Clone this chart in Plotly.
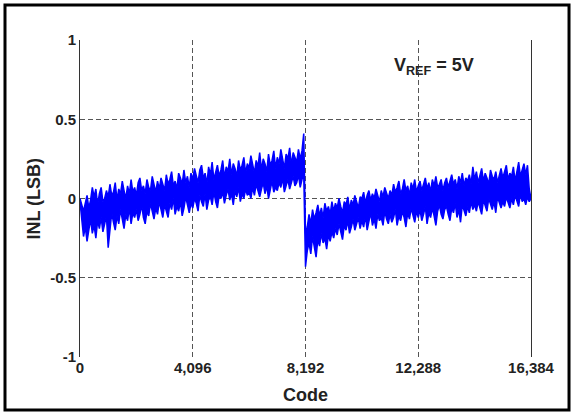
import plotly.graph_objects as go

# Sampled codes (every 64 codes); INL band read from the picture (LSB):
# upper and lower edges of the noisy INL trace at each sampled code.
codes = list(range(0, 16384, 64)) + [16383]

inl_upper = [
    # 0 - 960
    0.00, -0.05, -0.08, -0.03, 0.02, -0.06, -0.01, 0.07, 0.01, 0.06, -0.04, 0.03, 0.07, -0.02, 0.00, 0.05,
    # 1024 - 1984
    0.01, 0.09, 0.02, 0.04, 0.10, -0.01, 0.06, 0.03, 0.11, 0.05, 0.00, 0.08, 0.03, 0.12, 0.04, 0.07,
    # 2048 - 3008
    0.02, 0.10, 0.13, 0.05, 0.08, 0.03, 0.12, 0.07, 0.05, 0.14, 0.09, 0.04, 0.11, 0.06, 0.13, 0.08,
    # 3072 - 4032
    0.05, 0.15, 0.09, 0.12, 0.17, 0.08, 0.11, 0.06, 0.16, 0.13, 0.09, 0.18, 0.10, 0.14, 0.07, 0.16,
    # 4096 - 5056
    0.12, 0.19, 0.14, 0.10, 0.18, 0.21, 0.13, 0.16, 0.09, 0.20, 0.15, 0.23, 0.12, 0.17, 0.21, 0.14,
    # 5120 - 6080
    0.18, 0.24, 0.13, 0.20, 0.17, 0.25, 0.15, 0.22, 0.19, 0.14, 0.24, 0.18, 0.21, 0.26, 0.16, 0.22,
    # 6144 - 7104
    0.19, 0.27, 0.21, 0.16, 0.24, 0.20, 0.29, 0.18, 0.25, 0.22, 0.17, 0.28, 0.21, 0.24, 0.30, 0.19,
    # 7168 - 8128
    0.26, 0.22, 0.31, 0.24, 0.19, 0.28, 0.25, 0.32, 0.21, 0.29, 0.26, 0.23, 0.31, 0.25, 0.30, 0.41,
    # 8192 - 9152
    -0.22, -0.18, -0.10, -0.16, -0.07, -0.13, -0.09, -0.04, -0.11, -0.06, -0.12, -0.03, -0.08, -0.05, -0.10, -0.02,
    # 9216 - 10176
    -0.08, -0.03, -0.06, 0.00, -0.05, -0.09, -0.02, -0.04, 0.01, -0.07, -0.01, -0.04, 0.02, -0.03, -0.06, 0.01,
    # 10240 - 11200
    0.00, 0.04, -0.03, 0.02, 0.05, -0.01, 0.03, 0.00, 0.06, 0.02, -0.02, 0.05, 0.01, 0.07, 0.03, 0.00,
    # 11264 - 12224
    0.05, 0.02, 0.09, 0.04, 0.07, 0.11, 0.03, 0.06, 0.12, 0.05, 0.08, 0.02, 0.10, 0.06, 0.12, 0.04,
    # 12288 - 13248
    0.08, 0.11, 0.05, 0.09, 0.13, 0.06, 0.10, 0.04, 0.12, 0.08, 0.14, 0.07, 0.09, 0.12, 0.05, 0.10,
    # 13312 - 14272
    0.13, 0.07, 0.11, 0.15, 0.09, 0.12, 0.06, 0.14, 0.10, 0.16, 0.08, 0.13, 0.11, 0.15, 0.09, 0.20,
    # 14336 - 15296
    0.12, 0.17, 0.10, 0.14, 0.19, 0.11, 0.16, 0.13, 0.09, 0.18, 0.14, 0.12, 0.17, 0.10, 0.15, 0.19,
    # 15360 - 16320
    0.13, 0.18, 0.21, 0.12, 0.16, 0.14, 0.20, 0.11, 0.17, 0.23, 0.14, 0.19, 0.22, 0.15, 0.21, 0.06,
    # 16383
    0.00,
]

inl_lower = [
    # 0 - 960
    -0.02, -0.15, -0.24, -0.18, -0.27, -0.20, -0.13, -0.22, -0.17, -0.25, -0.14, -0.19, -0.12, -0.21, -0.16, -0.11,
    # 1024 - 1984
    -0.31, -0.18, -0.09, -0.15, -0.20, -0.11, -0.16, -0.07, -0.13, -0.19, -0.10, -0.14, -0.06, -0.16, -0.09, -0.12,
    # 2048 - 3008
    -0.07, -0.14, -0.10, -0.04, -0.12, -0.16, -0.08, -0.11, -0.03, -0.09, -0.13, -0.06, -0.10, -0.02, -0.08, -0.12,
    # 3072 - 4032
    -0.04, -0.09, -0.12, -0.03, -0.07, 0.00, -0.10, -0.05, -0.08, -0.02, -0.11, -0.06, 0.01, -0.04, -0.09, -0.03,
    # 4096 - 5056
    -0.06, 0.00, -0.03, -0.08, 0.02, -0.02, -0.05, 0.03, -0.07, -0.01, 0.01, -0.04, 0.04, -0.02, -0.06, 0.02,
    # 5120 - 6080
    0.00, 0.04, -0.03, 0.02, 0.06, -0.01, 0.03, -0.04, 0.05, 0.01, 0.07, -0.02, 0.03, 0.00, 0.06, 0.02,
    # 6144 - 7104
    0.04, 0.00, 0.07, 0.02, 0.09, 0.05, 0.01, 0.06, 0.10, 0.03, 0.08, 0.00, 0.06, 0.11, 0.04, 0.07,
    # 7168 - 8128
    0.05, 0.10, 0.07, 0.13, 0.04, 0.09, 0.12, 0.06, 0.11, 0.14, 0.08, 0.10, 0.15, 0.07, 0.12, 0.16,
    # 8192 - 9152
    -0.43, -0.33, -0.28, -0.35, -0.24, -0.31, -0.37, -0.26, -0.30, -0.22, -0.28, -0.25, -0.32, -0.23, -0.27, -0.21,
    # 9216 - 10176
    -0.25, -0.19, -0.23, -0.16, -0.21, -0.26, -0.17, -0.20, -0.14, -0.22, -0.18, -0.13, -0.20, -0.16, -0.12, -0.19,
    # 10240 - 11200
    -0.14, -0.18, -0.11, -0.20, -0.15, -0.09, -0.17, -0.13, -0.19, -0.10, -0.14, -0.12, -0.17, -0.08, -0.13, -0.16,
    # 11264 - 12224
    -0.10, -0.15, -0.12, -0.07, -0.17, -0.11, -0.14, -0.08, -0.12, -0.18, -0.09, -0.13, -0.06, -0.11, -0.15, -0.08,
    # 12288 - 13248
    -0.12, -0.07, -0.14, -0.10, -0.05, -0.16, -0.09, -0.12, -0.06, -0.11, -0.17, -0.08, -0.04, -0.10, -0.13, -0.07,
    # 13312 - 14272
    -0.05, -0.10, -0.14, -0.06, -0.09, -0.03, -0.12, -0.07, -0.15, -0.04, -0.08, -0.11, -0.05, -0.09, -0.02, -0.07,
    # 14336 - 15296
    -0.04, -0.08, -0.02, -0.06, -0.10, -0.01, -0.05, -0.08, 0.00, -0.04, -0.07, -0.02, -0.09, 0.01, -0.03, -0.06,
    # 15360 - 16320
    -0.02, -0.05, 0.01, -0.03, -0.06, 0.00, -0.04, 0.02, -0.01, -0.05, 0.03, -0.02, 0.00, -0.04, 0.01, -0.02,
    # 16383
    0.00,
]

x_tick_vals = [0, 4096, 8192, 12288, 16384]
x_tick_text = ["0", "4,096", "8,192", "12,288", "16,384"]
y_tick_vals = [-1, -0.5, 0, 0.5, 1]
y_tick_text = ["-1", "-0.5", "0", "0.5", "1"]

FONT = "Liberation Sans, Arial, Helvetica, sans-serif"
BLUE = "#0000FF"

fig = go.Figure()
fig.add_trace(go.Scatter(
    x=codes, y=inl_lower, mode="lines",
    line=dict(color=BLUE, width=1.5),
    showlegend=False, hoverinfo="skip",
))
fig.add_trace(go.Scatter(
    x=codes, y=inl_upper, mode="lines",
    line=dict(color=BLUE, width=1.5),
    fill="tonexty", fillcolor=BLUE,
    showlegend=False,
))

fig.update_layout(
    width=573, height=414,
    margin=dict(l=80, r=42, t=40, b=57),
    paper_bgcolor="white", plot_bgcolor="white",
    font=dict(family=FONT, color="#222222"),
    xaxis=dict(
        range=[0, 16384], tickvals=x_tick_vals, ticktext=x_tick_text,
        showgrid=True, gridcolor="#555555", gridwidth=1, griddash="5px,3px",
        zeroline=False, showline=False, ticks="",
        tickfont=dict(size=15, family=FONT, weight="bold", color="#222222"),
    ),
    yaxis=dict(
        range=[-1, 1], tickvals=y_tick_vals, ticktext=y_tick_text,
        showgrid=True, gridcolor="#555555", gridwidth=1, griddash="5px,3px",
        zeroline=False, showline=True, mirror=True, linecolor="#333333", linewidth=1,
        ticks="",
        tickfont=dict(size=15, family=FONT, weight="bold", color="#222222"),
    ),
    shapes=[dict(
        type="rect", xref="paper", yref="paper",
        x0=-0.1663, x1=1.0843, y0=-0.1672, y1=1.1104,
        line=dict(color="black", width=3), fillcolor="rgba(0,0,0,0)", layer="above",
    )],
    annotations=[
        dict(text="Code", xref="paper", yref="paper", x=0.5, y=-0.12,
             xanchor="center", yanchor="middle", showarrow=False,
             font=dict(size=18, family=FONT, weight="bold", color="#222222")),
        dict(text="INL (LSB)", xref="paper", yref="paper", x=-0.104, y=0.5,
             xanchor="center", yanchor="middle", textangle=-90, showarrow=False,
             font=dict(size=18, family=FONT, weight="bold", color="#222222")),
        dict(text="V<sub>REF</sub> = 5V", xref="paper", yref="paper", x=0.692, y=0.958,
             xanchor="left", yanchor="top", showarrow=False,
             font=dict(size=18, family=FONT, weight="bold", color="#222222")),
    ],
)

fig.write_html("out.html", config={"displayModeBar": False},
               post_script="document.body.style.margin='0px';")
